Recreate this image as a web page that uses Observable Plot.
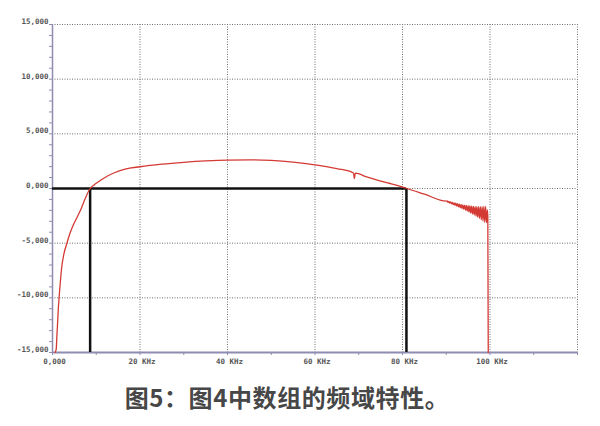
<!DOCTYPE html>
<html>
<head>
<meta charset="utf-8">
<script src="https://cdn.jsdelivr.net/npm/d3@7"></script>
<script src="https://cdn.jsdelivr.net/npm/@observablehq/plot@0.6"></script>
<style>
  html, body { margin: 0; padding: 0; background: #fff; width: 600px; height: 426px; overflow: hidden; }
  #chart { position: absolute; left: 0; top: 0; }
  #caption { position: absolute; left: 0; width: 574px; top: 385px; text-align: center;
    font-family: "Noto Sans CJK SC", sans-serif; font-weight: 700; font-size: 24px; letter-spacing: 0.6px; color: #474747; line-height: 1; }
</style>
</head>
<body>
<div id="chart"></div>
<div id="caption">图5：图4中数组的频域特性。</div>
<script>
// Frequency response (KHz, level)
const freqKHz = [0.6, 0.85, 1.0, 1.15, 1.3, 1.5, 1.8, 2.1, 2.6, 3.3, 4.0, 4.8, 5.6, 6.5, 7.5, 8.6, 9.5, 10.5, 12, 14, 16.6, 20, 25, 30, 35, 40, 45, 50, 55, 60, 65, 68.8, 69.0, 69.2, 72, 74.8, 77, 79.7, 81, 85, 90,
  90.2, 90.4, 90.6, 90.8, 91.0, 91.2, 91.4, 91.6, 91.8, 92.0, 92.2, 92.4, 92.6, 92.8, 93.0, 93.2, 93.4, 93.6, 93.8, 94.0,
  94.2, 94.4, 94.6, 94.8, 95.0, 95.2, 95.4, 95.6, 95.8, 96.0, 96.2, 96.4, 96.6, 96.8, 97.0, 97.2, 97.4, 97.6, 97.8, 98.0,
  98.2, 98.4, 98.6, 98.8, 99.0, 99.2, 99.4, 99.5, 99.6];
const level   = [-15000, -14700, -13500, -12400, -11200, -10000, -8500, -7230, -6000, -5000, -4100, -3300, -2650, -1900, -900, 0, 330, 615, 1010, 1420, 1780, 1990, 2220, 2390, 2520, 2600, 2620, 2570, 2420, 2170, 1820, 1420, 900, 1400, 1030, 700, 480, 180, 0, -520, -1160,
  -1137, -1270, -1182, -1335, -1227, -1399, -1272, -1464, -1317, -1534, -1351, -1609, -1386, -1684, -1421, -1758, -1456, -1833, -1491, -1908,
  -1520, -1993, -1545, -2078, -1570, -2162, -1595, -2247, -1620, -2332, -1639, -2427, -1654, -2522, -1669, -2626, -1664, -2741, -1659, -2856,
  -1653, -2971, -1648, -3086, -1643, -3120, -1948, -2600, -15000];

const cutoffLow = 8.6;
const cutoffHigh = 80.9;

const yTicks = [-15000, -10000, -5000, 0, 5000, 10000, 15000];
const yTickLabels = ["-15,000", "-10,000", "-5,000", "0,000", "5,000", "10,000", "15,000"];
const xTicks = [0, 20, 40, 60, 80, 100];
const xTickLabels = ["0,000", "20 KHz", "40 KHz", "60 KHz", "80 KHz", "100 KHz"];
const yGrid = [-10000, -5000, 0, 5000, 10000, 15000];
const xGrid = [20, 40, 60, 80, 100, 120];
const yMinor = d3.range(-15000, 15001, 1000);
const xMinor = d3.range(0, 121, 10);

const data = freqKHz.map((f, i) => ({f, v: level[i]}));
const yLab = new Map(yTicks.map((t, i) => [t, yTickLabels[i]]));
const xLab = new Map(xTicks.map((t, i) => [t, xTickLabels[i]]));

const axisColor = "#8e8cb0";
const gridColor = "#6e6e6e";

const chart = Plot.plot({
  width: 600,
  height: 370,
  marginLeft: 52,
  marginRight: 23,
  marginTop: 24,
  marginBottom: 18,
  style: {fontFamily: "'DejaVu Sans Mono', monospace", fontSize: "7.5px", fontWeight: "bold", color: "#555", background: "#fff"},
  x: {domain: [0, 120], label: null},
  y: {domain: [-15000, 15000], label: null},
  marks: [
    Plot.ruleY(yGrid, {stroke: gridColor, strokeDasharray: "1,1.5", strokeWidth: 1}),
    Plot.ruleX(xGrid, {stroke: gridColor, strokeDasharray: "1,1.5", strokeWidth: 1}),
    Plot.axisY({ticks: yMinor, tickSize: 3, tickFormat: () => "", stroke: axisColor, label: null}),
    Plot.axisX({ticks: xMinor, tickSize: 3, tickFormat: () => "", stroke: axisColor, label: null}),
    Plot.axisY({ticks: yTicks, tickSize: 0, tickPadding: 4, dy: -3, tickFormat: d => yLab.get(d), fill: "#555", label: null}),
    Plot.axisX({ticks: xTicks, tickSize: 0, tickPadding: 6, dx: 2, tickFormat: d => xLab.get(d), fill: "#555", label: null}),
    Plot.ruleX([0], {stroke: axisColor, strokeWidth: 1.5}),
    Plot.ruleY([-15000], {stroke: axisColor, strokeWidth: 2}),
    Plot.ruleY([0], {x1: 0, x2: cutoffHigh, stroke: "#111", strokeWidth: 2.5}),
    Plot.ruleX([cutoffLow, cutoffHigh], {y1: 0, y2: -15000, stroke: "#111", strokeWidth: 2.5}),
    Plot.line(data, {x: "f", y: "v", stroke: "#d43a34", strokeWidth: 1.3, curve: "monotone-x"})
  ]
});
document.getElementById("chart").appendChild(chart);
</script>
</body>
</html>
